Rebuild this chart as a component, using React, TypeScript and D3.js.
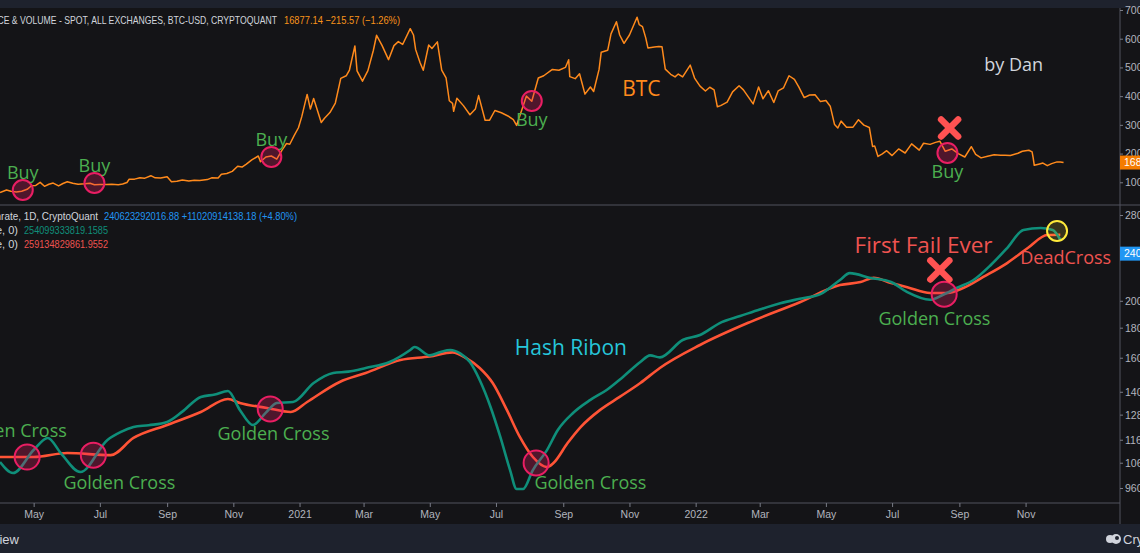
import { useEffect, useRef } from 'react';
import * as d3 from 'd3';

// BTC price (USD)
const btcPrice: [string, number][] = [
  ['2020-03-31', 6430], ['2020-04-06', 7300], ['2020-04-10', 6870], ['2020-04-15', 6640], ['2020-04-20', 6880],
  ['2020-04-25', 7550], ['2020-04-29', 8790], ['2020-05-03', 8900], ['2020-05-07', 9970], ['2020-05-11', 8600],
  ['2020-05-15', 9330], ['2020-05-19', 9730], ['2020-05-24', 8720], ['2020-05-28', 9580], ['2020-06-01', 10200],
  ['2020-06-06', 9670], ['2020-06-11', 9280], ['2020-06-17', 9450], ['2020-06-22', 9680], ['2020-06-26', 9160],
  ['2020-07-01', 9230], ['2020-07-07', 9250], ['2020-07-12', 9300], ['2020-07-18', 9170], ['2020-07-22', 9380],
  ['2020-07-26', 9930], ['2020-07-28', 11050], ['2020-08-02', 11100], ['2020-08-07', 11600], ['2020-08-11', 11380],
  ['2020-08-17', 12300], ['2020-08-21', 11540], ['2020-08-26', 11460], ['2020-09-01', 11920], ['2020-09-05', 10170],
  ['2020-09-10', 10340], ['2020-09-15', 10800], ['2020-09-21', 10420], ['2020-09-26', 10730], ['2020-10-01', 10620],
  ['2020-10-08', 10930], ['2020-10-12', 11550], ['2020-10-18', 11500], ['2020-10-21', 12820], ['2020-10-26', 13050],
  ['2020-10-31', 13800], ['2020-11-05', 15600], ['2020-11-09', 15300], ['2020-11-13', 16300], ['2020-11-18', 17800],
  ['2020-11-24', 19150], ['2020-11-26', 17150], ['2020-12-01', 18790], ['2020-12-06', 19150], ['2020-12-11', 18050],
  ['2020-12-16', 21300], ['2020-12-20', 23500], ['2020-12-23', 23250], ['2020-12-27', 26270], ['2020-12-31', 28990],
  ['2021-01-03', 32780], ['2021-01-08', 40600], ['2021-01-11', 35500], ['2021-01-14', 39200], ['2021-01-21', 30800],
  ['2021-01-24', 32300], ['2021-01-29', 34300], ['2021-02-03', 37600], ['2021-02-08', 46200], ['2021-02-13', 47100],
  ['2021-02-16', 49100], ['2021-02-21', 57500], ['2021-02-23', 48800], ['2021-02-28', 45200], ['2021-03-05', 48900],
  ['2021-03-10', 55900], ['2021-03-13', 61200], ['2021-03-18', 57700], ['2021-03-24', 52700], ['2021-03-29', 57600],
  ['2021-04-02', 59000], ['2021-04-06', 58000], ['2021-04-13', 63500], ['2021-04-16', 61300], ['2021-04-18', 56200],
  ['2021-04-22', 51700], ['2021-04-25', 49000], ['2021-04-30', 57800], ['2021-05-03', 56600], ['2021-05-08', 58900],
  ['2021-05-12', 49100], ['2021-05-16', 46400], ['2021-05-19', 38400], ['2021-05-22', 37500], ['2021-05-23', 34700],
  ['2021-05-26', 39300], ['2021-06-01', 36700], ['2021-06-07', 33500], ['2021-06-12', 35500], ['2021-06-15', 40200],
  ['2021-06-21', 31600], ['2021-06-25', 31600], ['2021-06-30', 35000], ['2021-07-06', 34200], ['2021-07-12', 33100],
  ['2021-07-17', 31800], ['2021-07-20', 29800], ['2021-07-25', 35400], ['2021-07-29', 40000], ['2021-08-03', 38200],
  ['2021-08-09', 46300], ['2021-08-14', 47100], ['2021-08-22', 49300], ['2021-08-28', 49000], ['2021-09-03', 50000],
  ['2021-09-06', 52700], ['2021-09-07', 46800], ['2021-09-12', 46100], ['2021-09-16', 47800], ['2021-09-21', 40700],
  ['2021-09-26', 43200], ['2021-09-29', 41600], ['2021-10-04', 49300], ['2021-10-06', 55300], ['2021-10-12', 56000],
  ['2021-10-15', 61700], ['2021-10-20', 65900], ['2021-10-23', 61300], ['2021-10-27', 58400], ['2021-11-01', 61300],
  ['2021-11-08', 67500], ['2021-11-10', 64900], ['2021-11-13', 64200], ['2021-11-16', 60300], ['2021-11-18', 56800],
  ['2021-11-24', 57100], ['2021-11-28', 57300], ['2021-12-01', 57200], ['2021-12-04', 49400], ['2021-12-09', 47600],
  ['2021-12-13', 46700], ['2021-12-16', 47700], ['2021-12-20', 46700], ['2021-12-27', 50800], ['2021-12-31', 46300],
  ['2022-01-05', 43500], ['2022-01-10', 41800], ['2022-01-14', 43100], ['2022-01-18', 42200], ['2022-01-21', 36300],
  ['2022-01-24', 36700], ['2022-01-30', 37900], ['2022-02-04', 41500], ['2022-02-10', 43600], ['2022-02-14', 42200],
  ['2022-02-18', 40000], ['2022-02-23', 37300], ['2022-02-28', 43200], ['2022-03-04', 39100], ['2022-03-09', 41900],
  ['2022-03-14', 37800], ['2022-03-18', 41800], ['2022-03-23', 42900], ['2022-03-28', 47100], ['2022-04-02', 45800],
  ['2022-04-06', 43200], ['2022-04-11', 39500], ['2022-04-16', 40400], ['2022-04-21', 40500], ['2022-04-26', 38100],
  ['2022-05-01', 38500], ['2022-05-05', 36500], ['2022-05-09', 30100], ['2022-05-12', 28900], ['2022-05-15', 31300],
  ['2022-05-20', 29200], ['2022-05-26', 29200], ['2022-05-31', 31800], ['2022-06-05', 29900], ['2022-06-10', 29100],
  ['2022-06-13', 22500], ['2022-06-15', 22600], ['2022-06-18', 19000], ['2022-06-22', 19900], ['2022-06-26', 21000],
  ['2022-07-01', 19300], ['2022-07-07', 21600], ['2022-07-13', 20200], ['2022-07-19', 23400], ['2022-07-26', 21200],
  ['2022-07-30', 23600], ['2022-08-05', 23200], ['2022-08-10', 23900], ['2022-08-14', 24300], ['2022-08-19', 20800],
  ['2022-08-25', 21600], ['2022-08-31', 20000], ['2022-09-06', 18800], ['2022-09-12', 22400], ['2022-09-16', 19700],
  ['2022-09-21', 18500], ['2022-09-27', 19100], ['2022-10-03', 19600], ['2022-10-09', 19400], ['2022-10-13', 19400],
  ['2022-10-18', 19300], ['2022-10-25', 20100], ['2022-10-29', 20800], ['2022-11-04', 21150], ['2022-11-07', 20600],
  ['2022-11-08', 18500], ['2022-11-09', 15900], ['2022-11-13', 16300], ['2022-11-17', 16700], ['2022-11-21', 15800],
  ['2022-11-25', 16500], ['2022-11-30', 17100], ['2022-12-03', 17100], ['2022-12-06', 16877],
];

// Hash rate SMA 30 (teal) and SMA 60 (red), in billions
const hashFast: [string, number][] = [
  ['2020-03-31', 106.3], ['2020-04-12', 101.8], ['2020-05-01', 111.4], ['2020-05-14', 116.8], ['2020-05-26', 110.1],
  ['2020-06-13', 102.2], ['2020-07-08', 115.9], ['2020-07-20', 119.5], ['2020-08-01', 121.9], ['2020-08-15', 122.8],
  ['2020-09-01', 124.4], ['2020-09-15', 129.5], ['2020-10-02', 137.2], ['2020-10-15', 138.5], ['2020-10-27', 140.4],
  ['2020-11-07', 130.4], ['2020-11-19', 122.9], ['2020-12-01', 129.0], ['2020-12-11', 134.0], ['2020-12-26', 134.5],
  ['2021-01-14', 144.9], ['2021-02-01', 150.7], ['2021-02-15', 151.5], ['2021-03-03', 153.7], ['2021-03-25', 157.3],
  ['2021-04-13', 164.9], ['2021-04-17', 166.9], ['2021-05-01', 161.5], ['2021-05-11', 163.7], ['2021-05-20', 164.9],
  ['2021-05-29', 162.7], ['2021-06-07', 157.3], ['2021-06-16', 146.6], ['2021-06-26', 131.9], ['2021-07-05', 117.3],
  ['2021-07-14', 103.0], ['2021-07-20', 95.6], ['2021-07-26', 95.6], ['2021-08-04', 103.0], ['2021-08-17', 111.4],
  ['2021-08-27', 120.5], ['2021-09-10', 128.8], ['2021-09-26', 135.6], ['2021-10-11', 141.0], ['2021-10-26', 148.4],
  ['2021-11-11', 157.3], ['2021-11-20', 161.5], ['2021-11-29', 160.2], ['2021-12-20', 171.5], ['2022-01-05', 174.9],
  ['2022-01-25', 184.0], ['2022-02-11', 188.4], ['2022-03-01', 193.3], ['2022-03-20', 198.1], ['2022-04-07', 201.6],
  ['2022-04-26', 205.3], ['2022-05-14', 217.0], ['2022-05-23', 222.9], ['2022-06-11', 218.8], ['2022-06-30', 215.3],
  ['2022-07-15', 206.9], ['2022-08-05', 200.8], ['2022-08-17', 204.8], ['2022-08-30', 210.5], ['2022-09-14', 217.0],
  ['2022-09-30', 230.2], ['2022-10-15', 246.0], ['2022-10-30', 264.1], ['2022-11-15', 266.1], ['2022-11-26', 264.1],
  ['2022-12-03', 254.1],
];

const hashSlow: [string, number][] = [
  ['2020-03-31', 108.4], ['2020-05-01', 108.4], ['2020-06-01', 110.1], ['2020-07-11', 109.2], ['2020-08-01', 116.8],
  ['2020-09-01', 122.9], ['2020-10-02', 129.3], ['2020-10-27', 136.1], ['2020-11-07', 134.0], ['2020-12-02', 131.4],
  ['2020-12-24', 129.3], ['2021-01-08', 134.5], ['2021-02-07', 145.5], ['2021-03-03', 150.7], ['2021-04-04', 158.6],
  ['2021-05-01', 160.8], ['2021-05-22', 163.4], ['2021-06-04', 159.6], ['2021-06-16', 153.7], ['2021-06-28', 144.9],
  ['2021-07-11', 130.4], ['2021-07-23', 117.3], ['2021-08-04', 108.4], ['2021-08-17', 104.2], ['2021-08-23', 105.9],
  ['2021-09-05', 114.5], ['2021-09-17', 121.9], ['2021-10-05', 130.4], ['2021-10-23', 137.2], ['2021-11-11', 144.9],
  ['2021-11-29', 153.7], ['2022-01-05', 168.2], ['2022-02-20', 184.0], ['2022-04-07', 198.9], ['2022-05-14', 212.7],
  ['2022-06-02', 215.3], ['2022-06-14', 218.8], ['2022-06-30', 214.4], ['2022-07-15', 210.9], ['2022-08-05', 206.2],
  ['2022-08-21', 206.2], ['2022-09-05', 210.5], ['2022-09-23', 219.6], ['2022-10-15', 231.9], ['2022-11-03', 246.0],
  ['2022-11-21', 258.9], ['2022-12-03', 259.1],
];

const monthTicks = [
  '2020-05-01', '2020-07-01', '2020-09-01', '2020-11-01', '2021-01-01', '2021-03-01', '2021-05-01', '2021-07-01',
  '2021-09-01', '2021-11-01', '2022-01-01', '2022-03-01', '2022-05-01', '2022-07-01', '2022-09-01', '2022-11-01',
];
const monthLabels = ['May', 'Jul', 'Sep', 'Nov', '2021', 'Mar', 'May', 'Jul', 'Sep', 'Nov', '2022', 'Mar', 'May', 'Jul', 'Sep', 'Nov'];
const priceTicks = [10000, 20000, 30000, 40000, 50000, 60000, 70000];
const hashTicks = [96, 106, 116, 128, 140, 160, 180, 200, 280];

const lastPrice = 16877.14;
const lastHash = 240.62329201688;

// buy signals on the price chart: date, price, label below?
const buySignals: [string, number, boolean][] = [
  ['2020-04-21', 7317, false],
  ['2020-06-26', 9756, false],
  ['2020-12-06', 18815, false],
  ['2021-08-03', 38328, true],
  ['2022-08-21', 20209, true],
];
// crosses on the hash ribbon
const crossSignals: [string, number, string][] = [
  ['2020-04-25', 108.4, 'golden'],
  ['2020-06-25', 109.2, 'golden'],
  ['2020-12-05', 130.9, 'golden'],
  ['2021-08-07', 105.9, 'golden'],
  ['2022-08-18', 205.3, 'golden'],
  ['2022-11-30', 263.0, 'dead'],
];
const crossLabels: [string, number, string, string][] = [
  ['2020-04-10', 120.0, 'Golden Cross', '#4caf50'],
  ['2020-07-19', 97.9, 'Golden Cross', '#4caf50'],
  ['2020-12-08', 118.6, 'Golden Cross', '#4caf50'],
  ['2021-09-26', 97.9, 'Golden Cross', '#4caf50'],
  ['2022-08-09', 186.8, 'Golden Cross', '#4caf50'],
  ['2021-09-08', 166.3, 'Hash Ribon', '#26c6da'],
  ['2022-07-30', 248.9, 'First Fail Ever', '#ef5350'],
  ['2022-12-08', 236.6, 'DeadCross', '#ef5350'],
];
const labelSizes: Record<string, number> = { 'Hash Ribon': 21, 'First Fail Ever': 22.5 };

const W = 1140;
const H = 553;
const AX = 1120;
const TOP = 8;
const MID = 205;
const BOT = 503;

const parse = d3.utcParse('%Y-%m-%d');
const d = (s: string) => parse(s) as Date;

const x = d3.scaleUtc().domain([d('2020-03-31'), d('2023-01-27')]).range([0, AX]);
const yPrice = d3.scaleLinear().domain([0, 70000]).range([211, 10]);
const yHash = d3.scaleLog().domain([96, 280]).range([488, 215]);

const FONT = "'Open Sans', 'Noto Sans', sans-serif";
const AXFONT = "'Liberation Sans', Arial, sans-serif";

function Cross({ cx, cy, size, color }: { cx: number; cy: number; size: number; color: string }) {
  const s = size / 2;
  return (
    <g stroke={color} strokeWidth={6.5} strokeLinecap="round">
      <line x1={cx - s} y1={cy - s} x2={cx + s} y2={cy + s} />
      <line x1={cx - s} y1={cy + s} x2={cx + s} y2={cy - s} />
    </g>
  );
}

export default function App() {
  const priceAxisRef = useRef<SVGGElement | null>(null);
  const hashAxisRef = useRef<SVGGElement | null>(null);
  const xAxisRef = useRef<SVGGElement | null>(null);

  useEffect(() => {
    const style = (g: d3.Selection<SVGGElement, unknown, null, undefined>) => {
      g.select('.domain').remove();
      g.selectAll('line').attr('stroke', '#787b86');
      g.selectAll('text').attr('fill', '#b2b5be').style('font-family', AXFONT).style('font-size', '10.5px');
    };
    if (priceAxisRef.current) {
      const g = d3.select(priceAxisRef.current);
      g.call(d3.axisRight(yPrice).tickValues(priceTicks).tickSize(3).tickPadding(2).tickFormat(v => (v as number).toFixed(2)));
      style(g);
    }
    if (hashAxisRef.current) {
      const g = d3.select(hashAxisRef.current);
      g.call(d3.axisRight(yHash).tickValues(hashTicks).tickSize(3).tickPadding(2).tickFormat(v => String((v as number) * 1e9)));
      style(g);
    }
    if (xAxisRef.current) {
      const g = d3.select(xAxisRef.current);
      g.call(d3.axisBottom(x).tickValues(monthTicks.map(d)).tickSize(4).tickPadding(4).tickFormat((_, i) => monthLabels[i]));
      style(g);
    }
  }, []);

  const priceLine = d3.line<[string, number]>().x(p => x(d(p[0]))).y(p => yPrice(p[1]));
  const hashLine = d3.line<[string, number]>().x(p => x(d(p[0]))).y(p => yHash(p[1])).curve(d3.curveMonotoneX);

  return (
    <svg width={W} height={H} style={{ position: 'fixed', left: 0, top: 0, background: '#141417' }}>
      <defs>
        <clipPath id="clipTop"><rect x={0} y={TOP} width={AX} height={MID - TOP} /></clipPath>
        <clipPath id="clipBot"><rect x={0} y={MID} width={AX} height={BOT - MID} /></clipPath>
      </defs>
      <rect x={0} y={0} width={W} height={H} fill="#141417" />
      <rect x={0} y={0} width={W} height={TOP} fill="#1e222d" />
      <rect x={0} y={524} width={W} height={H - 524} fill="#1e222d" />

      {/* panel frame lines */}
      <line x1={0} x2={W} y1={MID} y2={MID} stroke="#50535e" />
      <line x1={0} x2={AX} y1={BOT} y2={BOT} stroke="#50535e" />
      <line x1={AX} x2={AX} y1={TOP} y2={524} stroke="#50535e" />

      {/* BTC price */}
      <g clipPath="url(#clipTop)">
        <path d={priceLine(btcPrice) ?? ''} fill="none" stroke="#ff8a1c" strokeWidth={1.5} strokeLinejoin="round" />
        {buySignals.map(([dt, v, below], i) => (
          <g key={i}>
            <circle cx={x(d(dt))} cy={yPrice(v)} r={10} fill="rgba(233,30,99,0.28)" stroke="#e91e63" strokeWidth={2} />
            <text x={x(d(dt))} y={yPrice(v) + (below ? 19 : -17)} dy="0.35em" textAnchor="middle" fill="#4caf50"
              style={{ fontFamily: FONT, fontSize: 18 }}>Buy</text>
          </g>
        ))}
        <Cross cx={x(d('2022-08-23'))} cy={yPrice(28920)} size={17} color="#ff5252" />
        <text x={x(d('2021-11-12'))} y={yPrice(42500)} dy="0.35em" textAnchor="middle" fill="#ff8a1c"
          style={{ fontFamily: FONT, fontSize: 21 }}>BTC</text>
        <text x={x(d('2022-10-21'))} y={yPrice(50870)} dy="0.35em" textAnchor="middle" fill="#d1d4dc"
          style={{ fontFamily: FONT, fontSize: 18 }}>by Dan</text>
      </g>

      {/* Hash ribbon */}
      <g clipPath="url(#clipBot)">
        <path d={hashLine(hashSlow) ?? ''} fill="none" stroke="#ff5436" strokeWidth={2.6} />
        <path d={hashLine(hashFast) ?? ''} fill="none" stroke="#0f8f7a" strokeWidth={2.6} />
        {crossSignals.map(([dt, v, kind], i) => (
          <circle key={i} cx={x(d(dt))} cy={yHash(v)} r={kind === 'dead' ? 10 : 12.5}
            fill={kind === 'dead' ? 'rgba(255,235,59,0.15)' : 'rgba(233,30,99,0.28)'}
            stroke={kind === 'dead' ? '#ffeb3b' : '#e91e63'} strokeWidth={2} />
        ))}
        {crossLabels.map(([dt, v, t, c], i) => (
          <text key={i} x={x(d(dt))} y={yHash(v)} dy="0.35em" textAnchor="middle" fill={c}
            style={{ fontFamily: FONT, fontSize: labelSizes[t] ?? 18 }}>{t}</text>
        ))}
        <Cross cx={x(d('2022-08-14'))} cy={yHash(225.7)} size={19} color="#ff5252" />
      </g>

      {/* axes */}
      <g ref={priceAxisRef} transform={`translate(${AX},0)`} />
      <g ref={hashAxisRef} transform={`translate(${AX},0)`} />
      <g ref={xAxisRef} transform={`translate(0,${BOT})`} />

      {/* last value labels */}
      <rect x={AX} y={yPrice(lastPrice) - 7} width={W - AX} height={14} fill="#f57c00" />
      <text x={AX + 4} y={yPrice(lastPrice)} dy="0.35em" fill="#fff" style={{ fontFamily: AXFONT, fontSize: 10.5 }}>{lastPrice.toFixed(2)}</text>
      <rect x={AX} y={yHash(lastHash) - 7} width={W - AX} height={14} fill="#2196f3" />
      <text x={AX + 4} y={yHash(lastHash)} dy="0.35em" fill="#fff" style={{ fontFamily: AXFONT, fontSize: 10.5 }}>{(lastHash * 1e9).toFixed(2)}</text>

      {/* headers */}
      <g style={{ fontFamily: AXFONT, fontSize: 11 }}>
        <text x={277} y={24} textAnchor="end" fill="#d1d4dc" textLength={294} lengthAdjust="spacingAndGlyphs">PRICE &amp; VOLUME - SPOT, ALL EXCHANGES, BTC-USD, CRYPTOQUANT</text>
        <text x={284} y={24} fill="#f7931a" textLength={116} lengthAdjust="spacingAndGlyphs">16877.14  −215.57 (−1.26%)</text>
        <text x={98} y={220} textAnchor="end" fill="#d1d4dc" textLength={120} lengthAdjust="spacingAndGlyphs">Hashrate, 1D, CryptoQuant</text>
        <text x={104} y={220} fill="#2196f3" textLength={193} lengthAdjust="spacingAndGlyphs">240623292016.88  +11020914138.18 (+4.80%)</text>
        <text x={18} y={234} textAnchor="end" fill="#d1d4dc">SMA (30, close, 0)</text>
        <text x={24} y={234} fill="#0f8f7a" textLength={84} lengthAdjust="spacingAndGlyphs">254099333819.1585</text>
        <text x={18} y={248} textAnchor="end" fill="#d1d4dc">SMA (60, close, 0)</text>
        <text x={24} y={248} fill="#ef5350" textLength={84} lengthAdjust="spacingAndGlyphs">259134829861.9552</text>
      </g>

      {/* footer */}
      <text x={19} y={544} textAnchor="end" fill="#d1d4dc" style={{ fontFamily: AXFONT, fontSize: 13 }}>TradingView</text>
      <g fill="#d1d4dc">
        <circle cx={1110} cy={539} r={4} />
        <circle cx={1116} cy={539} r={5} />
      </g>
      <circle cx={1117} cy={538} r={2} fill="#1e222d" />
      <text x={1123} y={544} fill="#d1d4dc" style={{ fontFamily: AXFONT, fontSize: 13 }}>CryptoQuant</text>
    </svg>
  );
}
